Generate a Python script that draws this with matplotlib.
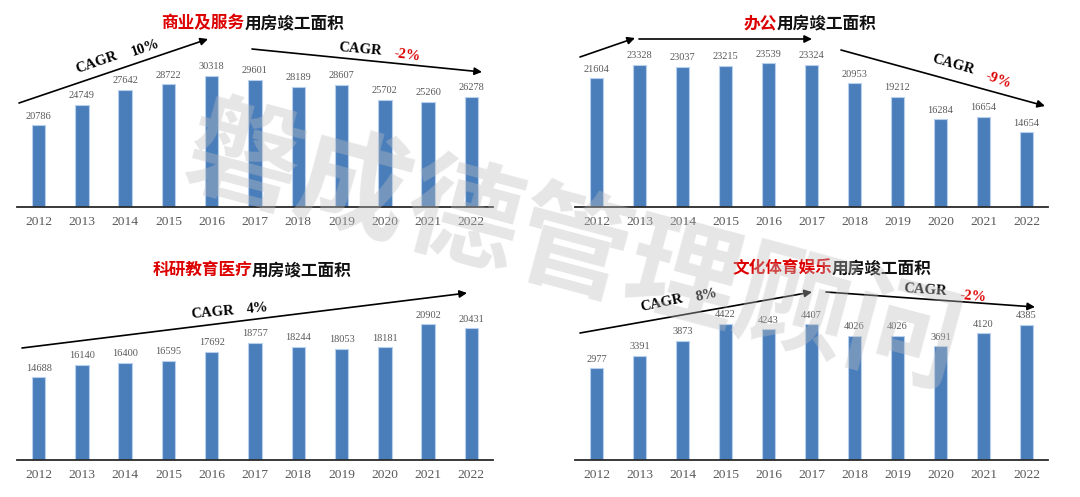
import matplotlib
matplotlib.use("Agg")
import matplotlib.pyplot as plt

W, H = 1080, 497
plt.rcParams['font.family'] = ['Liberation Serif', 'DejaVu Serif']

years = ['2012', '2013', '2014', '2015', '2016', '2017', '2018', '2019', '2020', '2021', '2022']
commercial = [20786, 24749, 27642, 28722, 30318, 29601, 28189, 28607, 25702, 25260, 26278]
office = [21604, 23328, 23037, 23215, 23539, 23324, 20953, 19212, 16284, 16654, 14654]
research = [14688, 16140, 16400, 16595, 17692, 18757, 18244, 18053, 18181, 20902, 20431]
culture = [2977, 3391, 3873, 4422, 4243, 4407, 4026, 4026, 3691, 4120, 4385]

titles_red = ['商业及服务', '办公', '科研教育医疗', '文化体育娱乐']
title_black = '用房竣工面积'

RED = '#DC0000'
BAR = '#4A7EBB'
EDGE = '#B8D0EE'
CJK = ['Noto Sans CJK SC', 'DejaVu Sans']

fig = plt.figure(figsize=(W / 100, H / 100), dpi=100)
fig.patch.set_facecolor('white')


def P(x, y):
    return (x / W, 1 - y / H)


# panel layout: left px, axis width px, baseline px, ymin, px per unit
panels = [
    dict(data=commercial, left=17, width=476, base=207, ymin=5000, ppu=0.00518),
    dict(data=office, left=575, width=473, base=207, ymin=5000, ppu=0.00776),
    dict(data=research, left=17, width=476, base=460, ymin=5000, ppu=0.00854),
    dict(data=culture, left=575, width=473, base=460, ymin=0, ppu=0.0308),
]

AX_H = 190
for p in panels:
    ax = fig.add_axes([p['left'] / W, 1 - p['base'] / H, p['width'] / W, AX_H / H])
    ax.patch.set_alpha(0)
    x = list(range(len(years)))
    ax.bar(x, p['data'], width=0.31, color=BAR, edgecolor=EDGE, linewidth=0.8, zorder=2)
    ax.set_xlim(-0.5, len(years) - 0.5)
    ax.set_ylim(p['ymin'], p['ymin'] + AX_H / p['ppu'])
    for s in ['top', 'right', 'left']:
        ax.spines[s].set_visible(False)
    ax.spines['bottom'].set_color('#2A2A2A')
    ax.spines['bottom'].set_linewidth(1.3)
    ax.set_yticks([])
    ax.set_xticks(x)
    ax.set_xticklabels(years, fontsize=9.7, color='#595959')
    ax.tick_params(axis='x', length=0, pad=6.5)
    for xi, v in zip(x, p['data']):
        ax.annotate(str(v), (xi, v), xytext=(0, 3.3), textcoords='offset points',
                    ha='center', va='bottom', fontsize=7.5, color='#595959')

# titles (red part + black part), baseline-aligned
title_pos = [(253, 28), (810, 28), (252, 275), (832, 273)]
renderer = fig.canvas.get_renderer()
for red, (cx, cy) in zip(titles_red, title_pos):
    t1 = fig.text(0, 0, red, fontsize=12, fontweight='bold', color=RED, family=CJK,
                  ha='left', va='baseline')
    t2 = fig.text(0, 0, title_black, fontsize=12, fontweight='bold', color='#111111',
                  family=CJK, ha='left', va='baseline')
    w1 = t1.get_window_extent(renderer).width
    w2 = t2.get_window_extent(renderer).width
    x0 = cx - (w1 + w2) / 2
    t1.set_position(P(x0, cy))
    t2.set_position(P(x0 + w1, cy))

# trend arrows
arrows = [
    ((19, 103), (208, 39)),
    ((252, 49), (482, 72)),
    ((580, 57), (635, 38)),
    ((639, 39), (812, 39)),
    ((841, 50), (1045, 106)),
    ((22, 348), (467, 293)),
    ((580, 333), (812, 292)),
    ((826, 292), (1035, 307)),
]
for (a, b) in arrows:
    fig.add_artist(matplotlib.patches.FancyArrowPatch(
        P(*a), P(*b), transform=fig.transFigure, arrowstyle='-|>',
        mutation_scale=11, lw=1.2, color='black', shrinkA=0, shrinkB=0))

# CAGR labels: text, x, y, rotation, color
labels = [
    ('CAGR', 97, 63, 19, 'black'), ('10%', 145, 48, 19, 'black'),
    ('CAGR', 360, 49, -5, 'black'), ('-2%', 407, 55, -8, RED),
    ('CAGR', 953, 65, -16, 'black'), ('-9%', 998, 80, -20, RED),
    ('CAGR', 212, 313, 5, 'black'), ('4%', 257, 309, 5, 'black'),
    ('CAGR', 662, 303, 12, 'black'), ('8%', 707, 295, 12, 'black'),
    ('CAGR', 925, 290, -4, 'black'), ('-2%', 973, 297, -5, RED),
]
for txt, x, y, r, c in labels:
    fig.text(*P(x, y), txt, rotation=r, fontsize=10.5, fontweight='bold', color=c,
             ha='center', va='center', rotation_mode='anchor')

# watermark
fig.text(*P(573, 250), '磐成德管理顾问', rotation=-15, fontsize=82, fontweight='bold',
         color='#BEBEBE', alpha=0.38, family=CJK, ha='center', va='center',
         rotation_mode='anchor', zorder=10)

fig.savefig('out.png', dpi=100)
